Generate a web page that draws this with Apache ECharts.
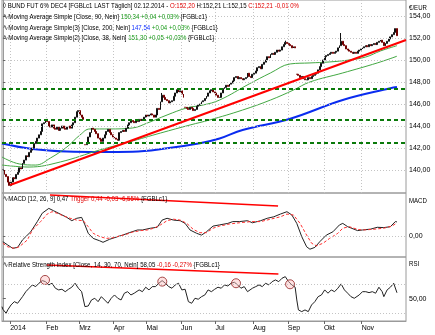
<!DOCTYPE html>
<html><head><meta charset="utf-8">
<script src="https://cdn.jsdelivr.net/npm/echarts@6/dist/echarts.min.js"></script>
<style>html,body{margin:0;padding:0;background:#fff}#c{width:435px;height:335px}</style>
</head><body><div id="c"></div>
<script>
// ---------- data ----------
const monthLabels = ['2014','Feb','Mrz','Apr','Mai','Jun','Jul','Aug','Sep','Okt','Nov'];
const monthStartIdx = [5,27,47,68,88,109,130,153,174,196,219];
const nSlots = 246;
const closes = [
140.0,139.6,139.4,138.9,138.6,138.9,139.3,139.2,139.6,139.8,
140.2,140.1,140.6,140.9,141.3,141.2,141.6,141.8,142.0,142.4,
142.6,142.9,143.2,143.5,144.2,144.3,144.6,144.4,144.0,143.9,
144.1,143.8,143.7,143.9,143.6,143.8,144.0,143.8,143.7,143.9,
144.0,143.8,144.1,144.3,144.8,145.3,145.4,145.0,144.8,144.6,
142.3,142.5,143.0,143.4,143.8,143.7,143.5,143.3,142.9,142.8,
142.6,142.9,143.2,143.5,143.7,143.4,143.2,143.0,142.9,142.8,
142.7,143.4,143.5,143.6,143.5,143.8,144.1,144.3,144.5,144.4,
144.3,144.5,144.4,144.6,144.5,144.6,144.8,145.0,144.9,145.0,
145.1,145.0,144.8,145.0,145.6,145.5,146.2,146.8,146.6,146.4,
146.3,146.1,146.2,146.3,146.7,147.0,147.3,147.1,147.2,146.9,
146.6,145.7,145.6,145.5,145.7,145.6,145.4,145.5,145.8,145.9,
146.0,146.2,146.3,146.5,146.7,147.0,147.2,147.3,147.1,147.0,
146.8,146.6,146.6,147.0,147.4,147.5,147.7,147.6,147.8,147.9,
148.1,148.4,148.5,148.3,148.4,148.3,148.2,148.3,148.4,148.8,
148.5,148.4,148.7,148.8,149.0,149.3,149.4,149.2,149.6,149.8,
150.0,150.3,150.2,150.5,150.6,150.5,150.7,150.9,150.8,150.9,
151.2,151.4,151.6,151.5,151.4,151.3,151.1,151.2,151.1,148.7,
148.6,148.4,148.5,148.3,148.2,148.2,148.4,148.3,148.5,148.6,
148.7,148.8,149.1,149.4,149.7,150.0,150.3,150.4,150.5,150.6,
150.7,150.6,150.7,150.8,151.1,151.3,151.7,151.4,151.3,151.0,
150.9,150.8,150.7,150.6,150.7,150.6,150.8,150.9,151.0,151.1,
151.2,151.3,151.2,151.4,151.3,151.4,151.5,151.4,151.6,151.7,
151.8,151.6,151.3,151.5,151.7,151.9,152.1,152.3,152.5,152.85,
152.21];
const rollDays = [50,111,179];
const wickHighs = [[206,152.45],[97,147.0],[172,151.75]];
const ma200 = [[-0.5,142.41],[18,141.91],[39,141.68],[59,141.64],[79,141.66],[100,141.97],[120,142.43],[132,142.86],[146,143.64],[175,144.66],[207,146.36],[236,147.43],[240,147.54]];
const ma90 = [[-0.5,140.45],[16,140.27],[35,140.73],[59,141.82],[77,142.55],[96,143.36],[114,144.09],[126,144.55],[146,145.45],[163,146.36],[177,147.27],[187,148.0],[207,148.82],[228,149.73],[240,150.34]];
const ma38 = [[-0.5,141.18],[10,140.55],[20,140.45],[29,141.09],[39,142.09],[47,143.18],[53,143.73],[65,143.73],[79,143.82],[88,144.27],[100,145.0],[112,145.64],[122,145.91],[132,146.36],[150,147.82],[163,148.82],[175,149.64],[187,149.73],[199,149.82],[211,150.0],[221,150.27],[230,150.82],[240,151.30]];
const trendLine = [[4.4,138.64],[245.5,151.82]];
const hLevels = [147.4,144.55,142.45];
const priceTicks = [140,142,144,146,148,150,152,154];
const macd = [[0,-0.19],[3,-0.30],[6,-0.41],[9,-0.38],[12,-0.13],[17,0.14],[21,0.48],[24,0.76],[28,0.92],[31,0.84],[35,0.73],[39,0.62],[42,0.51],[45,0.59],[48,0.62],[50,0.37],[52,0.09],[55,-0.08],[59,-0.16],[61,-0.21],[65,-0.11],[70,-0.02],[73,0.03],[77,0.11],[82,0.20],[85,0.20],[90,0.26],[94,0.29],[97,0.53],[100,0.59],[104,0.53],[108,0.51],[111,0.42],[114,0.20],[118,0.09],[121,0.03],[124,0.14],[128,0.33],[132,0.37],[137,0.42],[140,0.48],[144,0.48],[149,0.51],[152,0.44],[157,0.51],[161,0.59],[165,0.64],[169,0.73],[173,0.81],[176,0.70],[179,0.42],[182,-0.02],[185,-0.36],[187,-0.44],[190,-0.38],[193,-0.19],[197,0.03],[201,0.14],[205,0.37],[207,0.42],[210,0.31],[216,0.18],[219,0.20],[224,0.23],[228,0.29],[232,0.28],[236,0.31],[239,0.48],[240,0.47]];
const trigger = [[0,-0.24],[3,-0.36],[7,-0.41],[10,-0.36],[15,-0.13],[18,0.20],[23,0.48],[27,0.73],[30,0.81],[33,0.76],[37,0.67],[41,0.59],[45,0.53],[49,0.51],[52,0.31],[55,0.09],[59,-0.02],[63,-0.08],[67,-0.06],[71,0.0],[76,0.07],[79,0.13],[84,0.18],[88,0.20],[92,0.26],[96,0.37],[100,0.51],[104,0.56],[108,0.53],[112,0.42],[116,0.22],[120,0.11],[124,0.11],[128,0.26],[132,0.33],[138,0.40],[144,0.44],[151,0.48],[157,0.48],[163,0.56],[169,0.64],[173,0.73],[177,0.70],[181,0.42],[185,0.03],[188,-0.24],[191,-0.33],[195,-0.24],[199,-0.08],[204,0.09],[207,0.26],[211,0.31],[216,0.22],[219,0.20],[225,0.22],[232,0.26],[237,0.33],[240,0.44]];
const macdArrow = [[28.7,1.37],[167.6,1.0]];
const rsi = [[-0.5,39.1],[0,35.5],[2,30.1],[3,34.6],[5,41.4],[7,45.9],[9,43.7],[12,52.7],[14,59.5],[16,64.2],[18,68.7],[20,66.4],[22,71.0],[24,74.6],[26,73.2],[28,68.7],[30,71.0],[32,64.2],[34,61.9],[36,62.8],[38,59.5],[40,62.8],[42,65.6],[44,71.0],[46,64.2],[48,59.5],[50,39.1],[52,40.0],[54,48.2],[56,50.5],[58,45.9],[60,52.7],[62,48.2],[64,43.7],[66,50.5],[68,55.0],[70,50.5],[72,48.2],[74,57.4],[76,59.5],[78,55.0],[80,57.4],[83,61.9],[85,59.5],[87,65.6],[89,61.9],[91,66.4],[93,66.4],[95,71.0],[97,74.6],[99,71.0],[101,66.4],[103,64.2],[105,68.7],[107,71.0],[109,61.9],[111,62.8],[113,45.9],[115,43.7],[117,50.5],[119,49.2],[121,52.7],[123,55.0],[125,61.9],[127,59.5],[129,62.8],[131,65.6],[133,64.2],[135,68.7],[137,67.3],[139,71.0],[141,72.4],[143,68.7],[145,64.2],[147,66.4],[149,59.5],[152,64.2],[154,66.4],[156,68.7],[158,66.4],[160,71.0],[162,68.7],[164,73.2],[166,75.5],[168,73.2],[170,77.8],[172,80.0],[174,73.2],[176,68.7],[178,65.6],[179,48.2],[180,34.6],[182,32.3],[184,34.6],[186,32.3],[188,41.4],[190,45.9],[192,52.7],[194,55.0],[196,61.9],[198,57.4],[200,61.9],[202,59.5],[204,64.2],[206,70.1],[208,61.9],[210,57.4],[212,52.7],[214,50.5],[217,55.0],[219,59.5],[221,59.5],[223,58.2],[225,59.5],[227,57.4],[229,65.6],[231,59.5],[232,52.7],[234,61.9],[236,65.6],[238,71.0],[239,68.7],[240,58.05]];
const rsiCircles = [[25.7,75.5],[97.1,73.2],[142,71.0],[174.9,69.6]];
const rsiArrow = [[26.7,96.0],[167.8,83.7]];
const rsiLevels = [30,70];
const legendMain = [
  [['◊ BUND FUT 6% DEC4 [FGBLc1 LAST Täglich] 02.12.2014 - ','#000'],['O:152,20','#e00000'],[' H:152,21 L:152,15 ','#000'],['C:152,21 -0,01 0%','#e00000']],
  [['∿Moving Average Simple [Close, 90, Nein] ','#000'],['150,34 +0,04 +0,03%','#1a9a1a'],[' {FGBLc1}','#000']],
  [['∿Moving Average Simple(3) [Close, 200, Nein] ','#000'],['147,54','#1030ff'],[' +0,04 +0,03%','#1a9a1a'],[' {FGBLc1}','#000']],
  [['∿Moving Average Simple(2) [Close, 38, Nein] ','#000'],['151,30 +0,05 +0,03%','#1a9a1a'],[' {FGBLc1}','#000']]
];
const legendMacd = [['∿MACD [12, 26, 9] 0,47 ','#000'],['Trigger 0,44 -0,03 -6,55%','#e00000'],[' {FGBLc1}','#000']];
const legendRsi = [['∿Relative Strength Index [Close, 14, 30, 70, Nein] 58,05 ','#000'],['-0,16 -0,27%','#e00000'],[' {FGBLc1}','#000']];

// ---------- build ----------
const FONT = "'Liberation Sans',Arial,sans-serif";
const cats = Array.from({length:nSlots},(_,i)=>String(i));
const candles = closes.map((c,i)=>{
  const o = (i===0 || rollDays.includes(i)) ? c : closes[i-1];
  let lo = Math.min(o,c), hi = Math.max(o,c);
  wickHighs.forEach(w=>{ if(w[0]===i) hi = Math.max(hi,w[1]); });
  return [o,c,lo,hi];
});
const fmt = v => v.toFixed(2).replace('.',',');
const TXT_SCALE = 0.76, TXT_SIZE = 8;
function richText(x,y,parts){
  let s='', rich={};
  parts.forEach((p,k)=>{
    if(p[0].indexOf('{')>=0){ s+=p[0]; }
    else { rich['c'+k]={fill:p[1],fontSize:TXT_SIZE,fontFamily:FONT}; s+='{c'+k+'|'+p[0]+'}'; }
  });
  return {type:'text',x:x,y:y,scaleX:TXT_SCALE,z:100,silent:true,
    style:{text:s,rich:rich,fill:'#000',fontSize:TXT_SIZE,fontFamily:FONT,verticalAlign:'middle'}};
}
function plainText(x,y,t){
  return {type:'text',x:x,y:y,scaleX:TXT_SCALE,z:100,silent:true,
    style:{text:t,fontSize:TXT_SIZE,fontFamily:FONT,fill:'#000',verticalAlign:'middle'}};
}
const dotted = {color:'#c4c4c4',type:[1,2],width:1};
const tickX = monthStartIdx.map(m=>m-0.5);
const gridCommon = {left:2,right:29,show:true,borderColor:'#9a9a9a',borderWidth:1,containLabel:false};
const hiddenX = (gi)=>({type:'value',gridIndex:gi,min:-0.5,max:nSlots-0.5,show:false});
const AX_FONT = 7;

const option = {
  animation:false,
  backgroundColor:'#fff',
  grid:[
    Object.assign({top:0,height:193},gridCommon),
    Object.assign({top:193,height:64},gridCommon),
    Object.assign({top:257,height:64},gridCommon)
  ],
  xAxis:[
    {type:'category',gridIndex:0,data:cats,show:false,boundaryGap:true},
    hiddenX(0),
    hiddenX(1),
    {type:'value',gridIndex:2,min:-0.5,max:nSlots-0.5,position:'bottom',
     axisLine:{show:true,lineStyle:{color:'#9a9a9a'}},
     axisTick:{show:true,length:3,lineStyle:{color:'#666'},customValues:tickX},
     splitLine:{show:false},
     axisLabel:{customValues:tickX,fontSize:AX_FONT,fontFamily:FONT,color:'#000',align:'left',margin:4,
       formatter:v=>{const k=tickX.indexOf(v);return k>=0?monthLabels[k]:'';}}}
  ],
  yAxis:[
    {type:'value',gridIndex:0,position:'right',min:137.91,max:155.45,
     axisLine:{show:true,lineStyle:{color:'#9a9a9a'}},
     axisTick:{show:true,length:3,customValues:priceTicks,lineStyle:{color:'#666'}},
     splitLine:{show:false},
     axisLabel:{customValues:priceTicks,formatter:fmt,fontSize:AX_FONT,fontFamily:FONT,color:'#000',margin:3}},
    {type:'value',gridIndex:1,position:'right',min:-0.7,max:1.433,
     axisLine:{show:true,lineStyle:{color:'#9a9a9a'}},
     axisTick:{show:true,length:3,customValues:[0],lineStyle:{color:'#666'}},
     splitLine:{show:false},
     axisLabel:{customValues:[0],formatter:fmt,fontSize:AX_FONT,fontFamily:FONT,color:'#000',margin:3}},
    {type:'value',gridIndex:2,position:'right',min:19.5,max:106.8,
     axisLine:{show:true,lineStyle:{color:'#9a9a9a'}},
     axisTick:{show:true,length:3,customValues:[50],lineStyle:{color:'#666'}},
     splitLine:{show:false},
     axisLabel:{customValues:[50],formatter:fmt,fontSize:AX_FONT,fontFamily:FONT,color:'#000',margin:3}}
  ],
  series:[
    {type:'line',xAxisIndex:1,yAxisIndex:0,data:[],silent:true,
     markLine:{silent:true,symbol:'none',label:{show:false},animation:false,
       data:[...priceTicks.map(p=>({yAxis:p,lineStyle:dotted})),...tickX.map(t=>({xAxis:t,lineStyle:dotted}))]}},
    {type:'line',xAxisIndex:1,yAxisIndex:0,data:[],silent:true,
     markLine:{silent:true,symbol:'none',label:{show:false},animation:false,
       data:hLevels.map(p=>({yAxis:p,lineStyle:{color:'#0a7a0a',type:[4,3],width:2}}))}},
    {type:'line',xAxisIndex:1,yAxisIndex:0,data:ma200,showSymbol:false,smooth:0.4,lineStyle:{color:'#0a2cf0',width:2},z:3},
    {type:'line',xAxisIndex:1,yAxisIndex:0,data:ma90,showSymbol:false,smooth:0.4,lineStyle:{color:'#42a842',width:1},z:3},
    {type:'line',xAxisIndex:1,yAxisIndex:0,data:ma38,showSymbol:false,smooth:0.4,lineStyle:{color:'#42a842',width:1},z:3},
    {type:'candlestick',xAxisIndex:0,yAxisIndex:0,data:candles,barWidth:1.4,z:4,
     itemStyle:{color:'#909090',color0:'#c00000',borderColor:'#111',borderColor0:'#700000',borderWidth:1}},
    {type:'line',xAxisIndex:1,yAxisIndex:0,data:trendLine,showSymbol:false,lineStyle:{color:'#ff0000',width:2},z:5},
    // MACD
    {type:'line',xAxisIndex:2,yAxisIndex:1,data:[],silent:true,
     markLine:{silent:true,symbol:'none',label:{show:false},animation:false,data:[{yAxis:0,lineStyle:dotted}]}},
    {type:'line',xAxisIndex:2,yAxisIndex:1,data:macd,showSymbol:false,lineStyle:{color:'#222',width:1},z:3},
    {type:'line',xAxisIndex:2,yAxisIndex:1,data:trigger,showSymbol:false,lineStyle:{color:'#ff3030',width:1,type:[3,2]},z:4},
    {type:'line',xAxisIndex:2,yAxisIndex:1,data:[],silent:true,
     markLine:{silent:true,symbol:['none','arrow'],symbolSize:[0,7],label:{show:false},animation:false,
       lineStyle:{color:'#ff0000',width:1.5,type:'solid'},
       data:[[{coord:macdArrow[0]},{coord:macdArrow[1]}]]}},
    // RSI
    {type:'line',xAxisIndex:3,yAxisIndex:2,data:[],silent:true,
     markLine:{silent:true,symbol:'none',label:{show:false},animation:false,data:rsiLevels.map(l=>({yAxis:l,lineStyle:dotted}))}},
    {type:'line',xAxisIndex:3,yAxisIndex:2,data:rsi,showSymbol:false,lineStyle:{color:'#222',width:1},z:3},
    {type:'scatter',xAxisIndex:3,yAxisIndex:2,data:rsiCircles,symbolSize:9,z:4,
     itemStyle:{color:'rgba(255,190,190,0.55)',borderColor:'#902020',borderWidth:1}},
    {type:'line',xAxisIndex:3,yAxisIndex:2,data:[],silent:true,
     markLine:{silent:true,symbol:['none','arrow'],symbolSize:[0,7],label:{show:false},animation:false,
       lineStyle:{color:'#ff0000',width:1.5,type:'solid'},
       data:[[{coord:rsiArrow[0]},{coord:rsiArrow[1]}]]}}
  ],
  graphic:[
    ...legendMain.map((parts,k)=>richText(3,6+k*10.7,parts)),
    richText(3,199,legendMacd),
    richText(3,265,legendRsi),
    plainText(409,8,'€/EUR'),
    plainText(409,201,'MACD'),
    plainText(409,264,'RSI')
  ]
};
echarts.init(document.getElementById('c'),null,{renderer:'canvas'}).setOption(option);
</script></body></html>
